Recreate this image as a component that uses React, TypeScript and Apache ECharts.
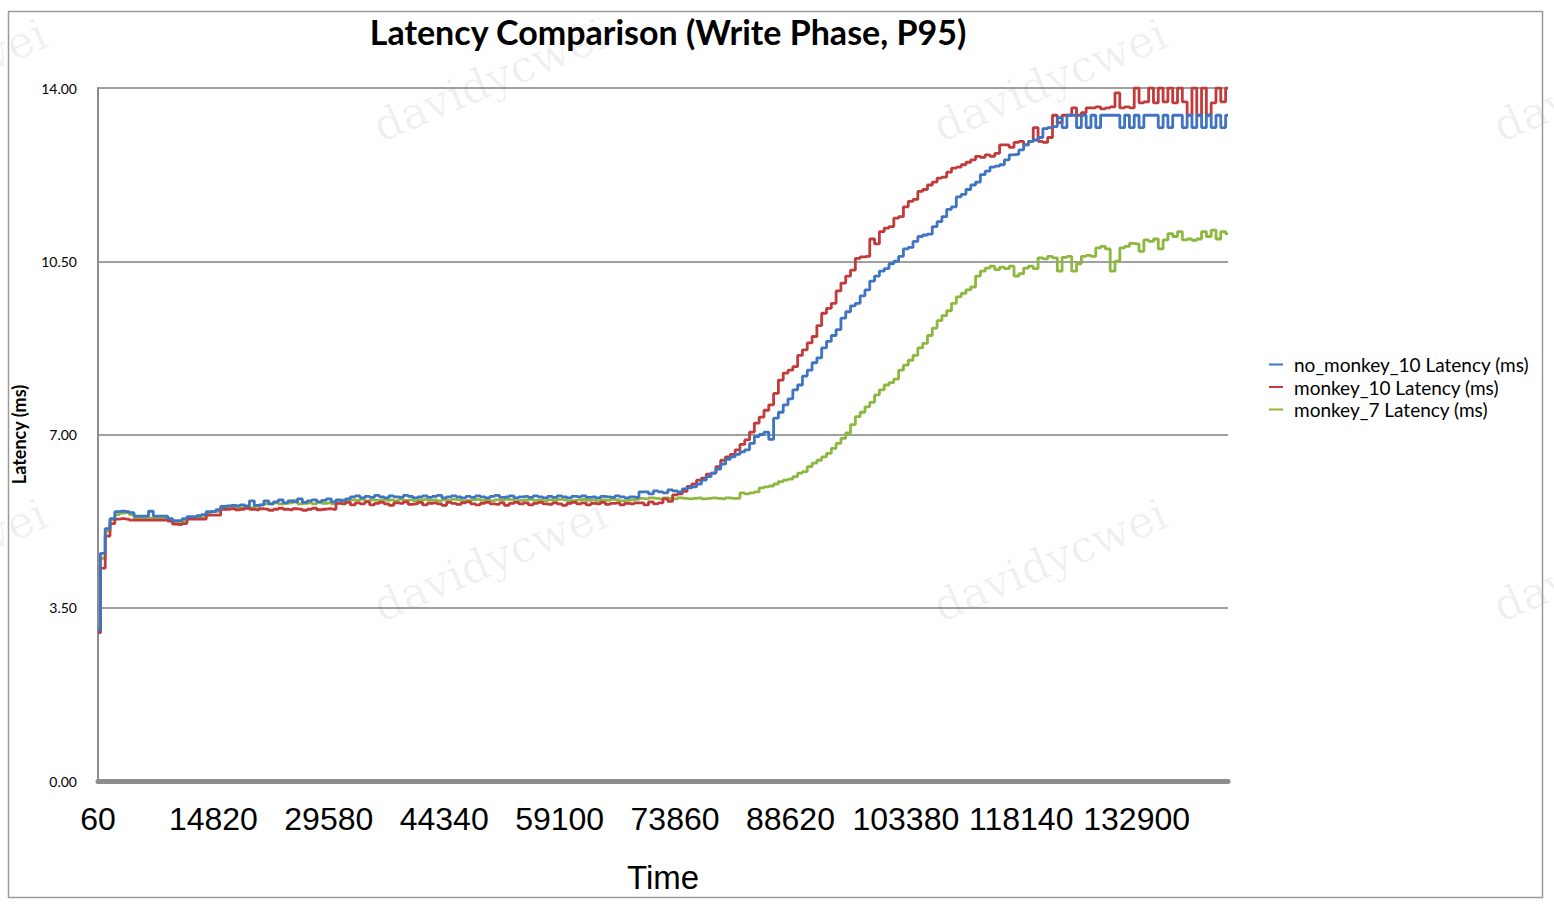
import React, { useEffect, useRef } from "react";
import * as echarts from "echarts";

const N = 236;
const STEP = 615;
const times: string[] = Array.from({ length: N }, (_, i) => String(60 + i * STEP));
const yTicks = [0, 3.5, 7, 10.5, 14];

const seriesNames = ["no_monkey_10 Latency (ms)", "monkey_10 Latency (ms)", "monkey_7 Latency (ms)"];

const noMonkey10 = [
  3.05, 4.6, 5.1, 5.3, 5.44, 5.45, 5.44, 5.42, 5.35, 5.35,
  5.35, 5.45, 5.35, 5.35, 5.35, 5.3, 5.26, 5.26, 5.3, 5.34,
  5.34, 5.36, 5.38, 5.44, 5.44, 5.48, 5.55, 5.56, 5.57, 5.56,
  5.58, 5.56, 5.66, 5.57, 5.58, 5.66, 5.6, 5.64, 5.68, 5.62,
  5.66, 5.64, 5.7, 5.63, 5.66, 5.68, 5.64, 5.67, 5.7, 5.64,
  5.68, 5.66, 5.7, 5.74, 5.76, 5.72, 5.75, 5.73, 5.77, 5.74,
  5.72, 5.76, 5.74, 5.73, 5.77, 5.75, 5.72, 5.74, 5.76, 5.73,
  5.75, 5.77, 5.72, 5.74, 5.76, 5.74, 5.72, 5.75, 5.73, 5.76,
  5.74, 5.72, 5.75, 5.77, 5.73, 5.74, 5.76, 5.72, 5.74, 5.75,
  5.73, 5.76, 5.74, 5.72, 5.75, 5.73, 5.76, 5.74, 5.72, 5.75,
  5.74, 5.76, 5.73, 5.74, 5.72, 5.75, 5.74, 5.73, 5.76, 5.74,
  5.72, 5.74, 5.73, 5.84, 5.84, 5.8, 5.86, 5.84, 5.82, 5.88,
  5.86, 5.84, 5.9, 5.92, 5.94, 6.0, 6.08, 6.15, 6.22, 6.3,
  6.4, 6.5, 6.55, 6.6, 6.65, 6.69, 6.82, 6.96, 7.0, 7.05,
  6.9, 7.33, 7.45, 7.6, 7.72, 7.9, 8.0, 8.18, 8.3, 8.45,
  8.55, 8.75, 8.88, 9.0, 9.12, 9.35, 9.48, 9.6, 9.65, 9.8,
  9.92, 10.1, 10.2, 10.3, 10.35, 10.45, 10.5, 10.6, 10.75, 10.78,
  10.9, 11.0, 11.03, 11.05, 11.2, 11.3, 11.4, 11.55, 11.6, 11.8,
  11.85, 11.95, 12.04, 12.1, 12.25, 12.32, 12.4, 12.42, 12.45, 12.55,
  12.65, 12.66, 12.75, 12.85, 12.92, 12.95, 13.0, 13.18, 13.2, 13.22,
  13.4, 13.2, 13.45, 13.45, 13.2, 13.45, 13.2, 13.45, 13.2, 13.45,
  13.45, 13.45, 13.45, 13.2, 13.45, 13.2, 13.45, 13.2, 13.45, 13.45,
  13.45, 13.2, 13.45, 13.2, 13.45, 13.45, 13.2, 13.45, 13.2, 13.45,
  13.2, 13.45, 13.2, 13.45, 13.2, 13.45,
];

const monkey10 = [
  3.0, 4.3, 4.95, 5.2, 5.29, 5.3, 5.29, 5.27, 5.27, 5.27,
  5.27, 5.27, 5.27, 5.27, 5.27, 5.25, 5.19, 5.18, 5.2, 5.29,
  5.29, 5.29, 5.29, 5.37, 5.37, 5.37, 5.49, 5.49, 5.5, 5.48,
  5.49, 5.51, 5.49, 5.48, 5.5, 5.49, 5.47, 5.49, 5.51, 5.49,
  5.48, 5.5, 5.49, 5.47, 5.49, 5.51, 5.48, 5.49, 5.5, 5.49,
  5.61, 5.6, 5.63, 5.58, 5.62, 5.6, 5.64, 5.58, 5.61, 5.63,
  5.6, 5.57, 5.62, 5.61, 5.64, 5.59, 5.6, 5.63, 5.58, 5.61,
  5.62, 5.6, 5.57, 5.63, 5.61, 5.59, 5.62, 5.64, 5.6, 5.58,
  5.61, 5.63, 5.6, 5.59, 5.62, 5.57, 5.61, 5.63, 5.6, 5.62,
  5.58, 5.61, 5.63, 5.6, 5.59, 5.62, 5.6, 5.57, 5.61, 5.63,
  5.6, 5.62, 5.58, 5.61, 5.6, 5.63, 5.59, 5.61, 5.62, 5.58,
  5.61, 5.6, 5.62, 5.62, 5.58, 5.64, 5.6, 5.62, 5.7, 5.65,
  5.78, 5.8, 5.85, 5.95, 6.0, 6.08, 6.12, 6.2, 6.22, 6.35,
  6.48, 6.55, 6.6, 6.69, 6.8, 6.89, 7.05, 7.23, 7.35, 7.49,
  7.6, 7.83, 8.1, 8.24, 8.3, 8.37, 8.6, 8.71, 8.85, 8.98,
  9.2, 9.45, 9.55, 9.65, 9.9, 10.06, 10.2, 10.32, 10.56, 10.59,
  10.6, 10.95, 10.85, 11.1, 11.17, 11.2, 11.37, 11.4, 11.6, 11.71,
  11.75, 11.91, 11.95, 12.04, 12.1, 12.18, 12.2, 12.3, 12.38, 12.4,
  12.45, 12.5, 12.55, 12.62, 12.6, 12.65, 12.62, 12.68, 12.85, 12.85,
  12.8, 12.9, 12.92, 12.85, 12.92, 13.2, 12.92, 12.9, 13.0, 13.45,
  13.3, 13.45, 13.45, 13.6, 13.45, 13.5, 13.6, 13.6, 13.62, 13.58,
  13.6, 13.62, 13.9, 13.6, 13.62, 13.6, 14.0, 13.7, 13.72, 14.0,
  13.7, 14.0, 13.72, 14.0, 13.7, 14.0, 13.72, 13.45, 14.0, 13.45,
  14.0, 13.45, 13.7, 14.0, 13.72, 14.0,
];

const monkey7 = [
  3.0, 4.5, 5.05, 5.28, 5.38, 5.41, 5.42, 5.38, 5.31, 5.31,
  5.31, 5.31, 5.31, 5.31, 5.31, 5.29, 5.24, 5.22, 5.25, 5.32,
  5.32, 5.32, 5.32, 5.42, 5.44, 5.45, 5.52, 5.52, 5.53, 5.52,
  5.52, 5.54, 5.52, 5.55, 5.58, 5.6, 5.6, 5.62, 5.6, 5.61,
  5.62, 5.67, 5.6, 5.61, 5.62, 5.6, 5.63, 5.61, 5.62, 5.6,
  5.67, 5.68, 5.66, 5.68, 5.67, 5.69, 5.66, 5.68, 5.67, 5.68,
  5.67, 5.68, 5.66, 5.69, 5.67, 5.68, 5.66, 5.68, 5.69, 5.67,
  5.68, 5.66, 5.68, 5.67, 5.69, 5.68, 5.66, 5.67, 5.68, 5.69,
  5.67, 5.68, 5.66, 5.68, 5.67, 5.69, 5.68, 5.66, 5.67, 5.68,
  5.69, 5.67, 5.68, 5.66, 5.68, 5.67, 5.69, 5.68, 5.66, 5.67,
  5.68, 5.69, 5.67, 5.68, 5.66, 5.68, 5.67, 5.69, 5.68, 5.66,
  5.67, 5.68, 5.69, 5.71, 5.7, 5.72, 5.71, 5.7, 5.72, 5.71,
  5.7, 5.72, 5.71, 5.7, 5.71, 5.72, 5.7, 5.71, 5.72, 5.71,
  5.7, 5.72, 5.71, 5.71, 5.82, 5.8, 5.82, 5.84, 5.92, 5.94,
  5.96, 6.0, 6.05, 6.08, 6.1, 6.15, 6.22, 6.25, 6.35, 6.42,
  6.48, 6.55, 6.62, 6.72, 6.82, 6.92, 7.03, 7.2, 7.36, 7.45,
  7.56, 7.65, 7.8, 7.9, 8.0, 8.05, 8.12, 8.3, 8.4, 8.5,
  8.6, 8.75, 8.84, 9.0, 9.15, 9.3, 9.4, 9.5, 9.65, 9.78,
  9.85, 9.92, 9.98, 10.2, 10.3, 10.36, 10.4, 10.33, 10.38, 10.35,
  10.4, 10.2, 10.25, 10.36, 10.4, 10.35, 10.57, 10.55, 10.6, 10.57,
  10.3, 10.58, 10.6, 10.3, 10.45, 10.6, 10.62, 10.6, 10.77, 10.8,
  10.75, 10.3, 10.5, 10.77, 10.8, 10.86, 10.85, 10.7, 10.93, 10.9,
  10.95, 10.75, 10.93, 11.06, 11.0, 11.1, 10.93, 10.95, 10.92, 10.95,
  11.1, 11.0, 11.13, 10.95, 11.1, 11.06,
];

const colors = ["#3F74C2", "#C33A3A", "#8DB83F"];
const watermarkSpots: [number, number][] = [
  [490, 80], [1050, 80], [490, 560], [1050, 560], [-70, 80], [-70, 560], [1610, 80], [1610, 560],
];

const SANS = "'Liberation Sans', Arial, sans-serif";
const CAL = "Lato, 'Open Sans', sans-serif";

export default function App() {
  const ref = useRef<HTMLDivElement>(null);
  useEffect(() => {
    document.body.style.margin = "0";
    if (!ref.current) return;
    const chart = echarts.init(ref.current, undefined, { renderer: "svg" });
    const watermarks = watermarkSpots.map(([x, y]) => ({
      type: "text",
      x,
      y,
      rotation: 0.4,
      z: -10,
      silent: true,
      style: {
        text: "davidycwei",
        fill: "rgba(0,0,0,0.06)",
        font: "44px 'DejaVu Serif', serif",
        align: "center",
        verticalAlign: "middle",
        textAlign: "center",
        textVerticalAlign: "middle",
      },
    }));
    chart.setOption({
      animation: false,
      backgroundColor: "#ffffff",
      title: {
        text: "Latency Comparison (Write Phase, P95)",
        left: 663,
        top: 9,
        textAlign: "center",
        textStyle: { fontSize: 34, fontWeight: "bold", color: "#000", fontFamily: CAL },
      },
      graphic: [
        {
          type: "rect",
          silent: true,
          shape: { x: 8.5, y: 11.5, width: 1534, height: 886 },
          style: { fill: "none", stroke: "#9a9a9a", lineWidth: 1.5 },
        },
        ...watermarks,
      ],
      legend: {
        orient: "vertical",
        left: 1264,
        top: 350,
        data: seriesNames,
        icon: "rect",
        itemWidth: 14,
        itemHeight: 2,
        itemGap: 3.5,
        textStyle: { fontSize: 19, color: "#000", fontFamily: CAL, lineHeight: 19, padding: [0, 0, 0, 6] },
      },
      grid: { left: 98, right: 326, top: 88, bottom: 131, containLabel: false, outerBoundsMode: "none" },
      xAxis: {
        type: "category",
        data: times,
        boundaryGap: false,
        name: "Time",
        nameLocation: "middle",
        nameGap: 80,
        nameTextStyle: { fontSize: 33, color: "#000", fontFamily: SANS },
        axisLine: { lineStyle: { color: "#8c8c8c", width: 5 } },
        axisTick: { show: false },
        axisLabel: { interval: 23, hideOverlap: false, fontSize: 32, color: "#000", fontFamily: SANS, margin: 22 },
        splitLine: { show: false },
      },
      yAxis: {
        type: "value",
        min: yTicks[0],
        max: yTicks[yTicks.length - 1],
        interval: 3.5,
        name: "Latency (ms)",
        nameLocation: "middle",
        nameGap: 70,
        nameRotate: 90,
        nameTextStyle: { fontSize: 18, fontWeight: "bold", color: "#000", fontFamily: CAL },
        axisLine: { show: true, lineStyle: { color: "#8c8c8c", width: 2 } },
        axisTick: { show: false },
        axisLabel: { fontSize: 14, color: "#000", fontFamily: CAL, margin: 21, formatter: (v: number) => v.toFixed(2) },
        splitLine: { lineStyle: { color: "#808080", width: 1.5 } },
      },
      series: [
        { name: seriesNames[2], type: "line", data: monkey7, color: colors[2] },
        { name: seriesNames[1], type: "line", data: monkey10, color: colors[1] },
        { name: seriesNames[0], type: "line", data: noMonkey10, color: colors[0] },
      ].map((s) => ({
        ...s,
        step: "middle",
        showSymbol: false,
        symbol: "none",
        lineStyle: { width: 2.8, color: s.color },
        itemStyle: { color: s.color },
      })),
    });
    return () => chart.dispose();
  }, []);
  return <div ref={ref} style={{ width: 1554, height: 912 }} />;
}
